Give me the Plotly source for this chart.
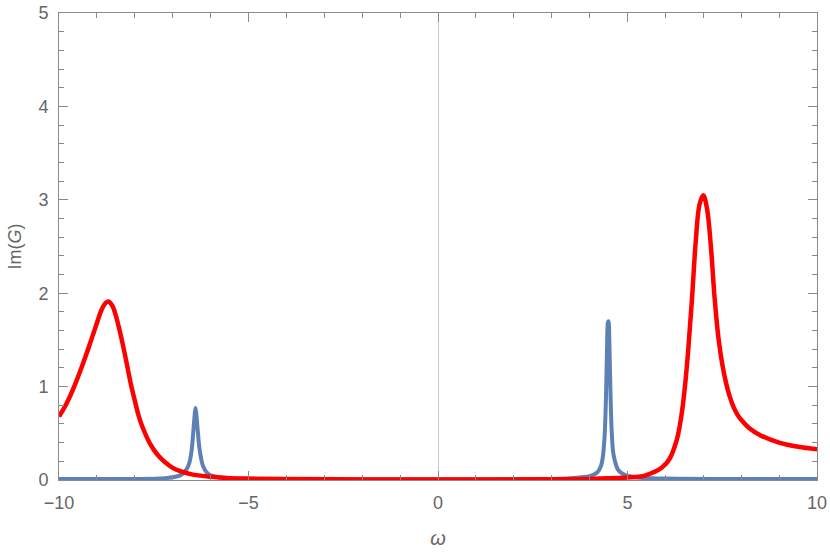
import plotly.graph_objects as go


##############################################################
# Data
##############################################################

red_x = [
    -10.0, -9.8, -9.6, -9.4, -9.2, -9.0, -8.9, -8.8, -8.7, -8.6,
    -8.5, -8.4, -8.3, -8.2, -8.1, -8.0, -7.9, -7.8, -7.6, -7.4,
    -7.2, -7.0, -6.8, -6.5, -6.0, -5.5, -5.0, -4.0, -2.0, 0.0,
    2.0, 3.0, 4.0, 4.5, 5.0, 5.4, 5.7, 5.9, 6.1, 6.3,
    6.4, 6.5, 6.6, 6.7, 6.8, 6.9, 7.0, 7.1, 7.2, 7.3,
    7.4, 7.5, 7.6, 7.7, 7.8, 7.9, 8.0, 8.2, 8.5, 9.0,
    9.5, 10.0
]

red_y = [
    0.68, 0.82, 1.00, 1.21, 1.44, 1.68, 1.80, 1.88, 1.91, 1.87,
    1.76, 1.60, 1.42, 1.22, 1.02, 0.85, 0.69, 0.57, 0.39, 0.27,
    0.19, 0.13, 0.095, 0.06, 0.035, 0.02, 0.015, 0.01, 0.006, 0.005,
    0.006, 0.008, 0.012, 0.018, 0.028, 0.04, 0.085, 0.13, 0.22, 0.43,
    0.63, 0.94, 1.38, 1.93, 2.55, 2.95, 3.05, 2.90, 2.50, 1.94,
    1.52, 1.24, 1.04, 0.89, 0.78, 0.70, 0.645, 0.56, 0.48, 0.40,
    0.355, 0.33
]

blue_x = [
    -10.0, -8.0, -7.2, -7.0, -6.8, -6.7, -6.6, -6.55, -6.5, -6.45,
    -6.42, -6.4, -6.38, -6.35, -6.3, -6.25, -6.2, -6.1, -6.0, -5.8,
    -5.5, -5.0, 0.0, 3.0, 3.5, 4.0, 4.2, 4.3, 4.35, 4.4,
    4.43, 4.46, 4.48, 4.5, 4.52, 4.55, 4.58, 4.62, 4.67, 4.75,
    4.9, 5.2, 6.0, 10.0
]

blue_y = [
    0.01, 0.012, 0.02, 0.03, 0.05, 0.08, 0.14, 0.2, 0.32, 0.55,
    0.70, 0.77, 0.72, 0.58, 0.36, 0.23, 0.15, 0.08, 0.05, 0.03,
    0.02, 0.012, 0.008, 0.012, 0.02, 0.04, 0.08, 0.15, 0.25, 0.5,
    0.85, 1.4, 1.68, 1.70, 1.5, 0.95, 0.55, 0.3, 0.2, 0.11,
    0.06, 0.03, 0.015, 0.01
]

x_ticks = [-10, -5, 0, 5, 10]
x_tick_labels = ["\u221210", "\u22125", "0", "5", "10"]
y_ticks = [0, 1, 2, 3, 4, 5]


##############################################################
# Figure
##############################################################

FONT = "Liberation Sans, Arial, sans-serif"
FRAME = "#8a8a8a"

fig = go.Figure()

fig.add_trace(
    go.Scatter(
        x=blue_x,
        y=blue_y,
        mode="lines",
        line=dict(color="#5E81B5", width=4, shape="spline", smoothing=0.8),
        showlegend=False
    )
)

fig.add_trace(
    go.Scatter(
        x=red_x,
        y=red_y,
        mode="lines",
        line=dict(color="#FF0000", width=4.5, shape="spline", smoothing=1.0),
        showlegend=False
    )
)

axis_common = dict(
    showgrid=False,
    showline=True,
    linecolor=FRAME,
    linewidth=1,
    mirror="allticks",
    ticks="inside",
    ticklen=9,
    tickwidth=1,
    tickcolor=FRAME,
    tickfont=dict(family=FONT, size=18, color="#666666"),
    ticklabelstandoff=6,
    ticklabeloverflow="allow",
    automargin=False,
)

fig.update_xaxes(
    **axis_common,
    range=[-10, 10],
    tickvals=x_ticks,
    ticktext=x_tick_labels,
    minor=dict(dtick=1, ticks="inside", ticklen=5, tickcolor=FRAME, tickwidth=1),
    zeroline=True,
    zerolinecolor="#c8c8c8",
    zerolinewidth=1,
    title=dict(
        text="<i>\u03c9</i>",
        font=dict(family=FONT, size=20, color="#666666"),
        standoff=19
    )
)

fig.update_yaxes(
    **axis_common,
    range=[0, 5],
    tickvals=y_ticks,
    minor=dict(dtick=0.2, ticks="inside", ticklen=5, tickcolor=FRAME, tickwidth=1),
    zeroline=False,
    title=dict(
        text="Im(<i>G</i>)",
        font=dict(family=FONT, size=18, color="#666666"),
        standoff=12
    )
)

fig.update_layout(
    width=830,
    height=556,
    margin=dict(l=59, r=13, t=13, b=76),
    plot_bgcolor="white",
    paper_bgcolor="white"
)

# drop the browser's default body margin so the figure fills the window
fig.write_html(
    "out.html",
    config={"displayModeBar": False},
    post_script="document.body.style.margin='0';document.body.style.overflow='hidden';"
)
